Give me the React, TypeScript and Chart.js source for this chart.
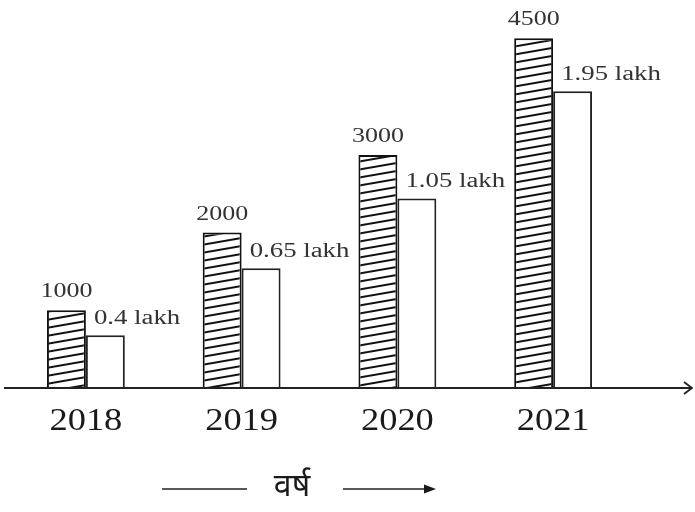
import React, { useEffect, useRef } from "react";
import { Chart, registerables } from "chart.js";

Chart.register(...registerables);

const years = ["2018", "2019", "2020", "2021"];
const hatchedValues = [1000, 2000, 3000, 4500];
const hatchedLabels = ["1000", "2000", "3000", "4500"];
// heights of the white bars as drawn (same scale as the hatched bars)
const plainValues = [680, 1540, 2440, 3820];
const plainLabels = ["0.4 lakh", "0.65 lakh", "1.05 lakh", "1.95 lakh"];
const xTitle = "वर्ष";

function makeHatch(): CanvasPattern | string {
  const w = 46;
  const h = 8;
  const c = document.createElement("canvas");
  c.width = w;
  c.height = h;
  const g = c.getContext("2d");
  if (!g) return "#fff";
  g.fillStyle = "#ffffff";
  g.fillRect(0, 0, w, h);
  g.strokeStyle = "#111";
  g.lineWidth = 2;
  for (const dy of [-h, 0, h]) {
    g.beginPath();
    g.moveTo(0, h + dy);
    g.lineTo(w, 0 + dy);
    g.stroke();
  }
  const p = g.createPattern(c, "repeat");
  return p || "#fff";
}

const SERIF = '"Liberation Serif", "DejaVu Serif", serif';

function drawScaledText(
  ctx: CanvasRenderingContext2D,
  text: string,
  x: number,
  y: number,
  sx: number,
  align: CanvasTextAlign
) {
  ctx.save();
  ctx.translate(x, y);
  ctx.scale(sx, 1);
  ctx.textAlign = align;
  ctx.textBaseline = "alphabetic";
  ctx.fillText(text, 0, 0);
  ctx.restore();
}

const decorPlugin = {
  id: "decor",
  afterDatasetsDraw(chart: any) {
    const ctx: CanvasRenderingContext2D = chart.ctx;
    const area = chart.chartArea;
    const xScale = chart.scales.x;
    const baseY = area.bottom;

    // x axis line with open arrow
    ctx.save();
    ctx.strokeStyle = "#222";
    ctx.lineWidth = 2;
    ctx.beginPath();
    ctx.moveTo(4, baseY);
    ctx.lineTo(691, baseY);
    ctx.stroke();
    ctx.lineWidth = 1.8;
    ctx.beginPath();
    ctx.moveTo(684, baseY - 6);
    ctx.lineTo(692, baseY);
    ctx.lineTo(684, baseY + 6);
    ctx.stroke();
    ctx.restore();

    // value labels
    ctx.save();
    ctx.fillStyle = "#333";
    ctx.font = `20px ${SERIF}`;
    const m0 = chart.getDatasetMeta(0);
    const m1 = chart.getDatasetMeta(1);
    m0.data.forEach((bar: any, i: number) => {
      drawScaledText(ctx, hatchedLabels[i], bar.x, bar.y - 13, 1.3, "center");
    });
    m1.data.forEach((bar: any, i: number) => {
      const left = bar.x - bar.width / 2;
      drawScaledText(ctx, plainLabels[i], left + 8, bar.y - 11, 1.34, "left");
    });
    ctx.restore();

    // year labels
    ctx.save();
    ctx.fillStyle = "#1a1a1a";
    ctx.font = `32px ${SERIF}`;
    years.forEach((y, i) => {
      const cx = xScale.getPixelForValue(i);
      drawScaledText(ctx, y, cx, baseY + 42, 1.14, "center");
    });
    ctx.restore();

    // bottom title with arrows
    ctx.save();
    ctx.strokeStyle = "#222";
    ctx.fillStyle = "#1a1a1a";
    ctx.lineWidth = 1.6;
    ctx.beginPath();
    ctx.moveTo(162, 489);
    ctx.lineTo(247, 489);
    ctx.moveTo(343, 489);
    ctx.lineTo(426, 489);
    ctx.stroke();
    ctx.beginPath();
    ctx.moveTo(436, 489);
    ctx.lineTo(424, 484.5);
    ctx.lineTo(424, 493.5);
    ctx.closePath();
    ctx.fill();
    ctx.font = '32px "Noto Sans Devanagari", "Lohit Devanagari", "FreeSans", "Noto Sans", sans-serif';
    ctx.textAlign = "center";
    ctx.textBaseline = "middle";
    ctx.fillText(xTitle, 292, 490);
    ctx.restore();
  },
};

export default function App() {
  const ref = useRef<HTMLCanvasElement | null>(null);

  useEffect(() => {
    if (!ref.current) return;
    const hatch = makeHatch();
    const chart = new Chart(ref.current, {
      type: "bar",
      data: {
        labels: years,
        datasets: [
          {
            data: hatchedValues,
            backgroundColor: hatch as any,
            borderColor: "#111",
            borderWidth: 2,
            borderSkipped: "start",
          },
          {
            data: plainValues,
            backgroundColor: "#ffffff",
            borderColor: "#222",
            borderWidth: 2,
            borderSkipped: "start",
          },
        ],
      },
      options: {
        animation: false,
        responsive: false,
        maintainAspectRatio: false,
        devicePixelRatio: 1,
        layout: { padding: { left: 8, right: 64, top: 15, bottom: 124 } },
        datasets: {
          bar: { categoryPercentage: 0.5, barPercentage: 1.0 },
        },
        plugins: {
          legend: { display: false },
          tooltip: { enabled: false },
        },
        scales: {
          x: { display: false, offset: true },
          y: { display: false, min: 0, max: 4800 },
        },
      },
      plugins: [decorPlugin],
    });
    return () => chart.destroy();
  }, []);

  return (
    <div style={{ position: "fixed", left: 0, top: 0, width: 695, height: 512, background: "#fff" }}>
      <canvas ref={ref} width={695} height={512} style={{ width: 695, height: 512 }} />
    </div>
  );
}
